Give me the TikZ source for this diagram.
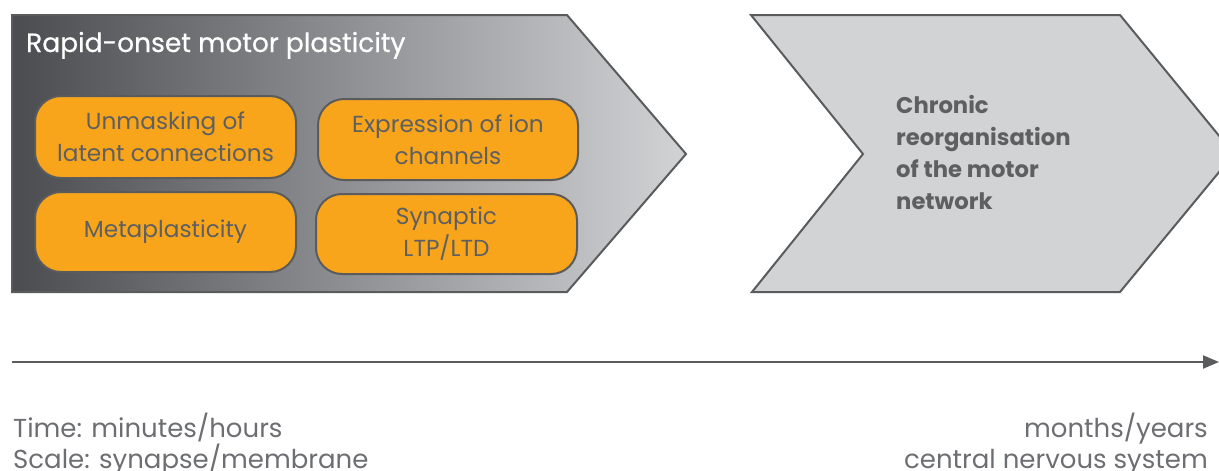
\documentclass[tikz,border=0pt]{standalone}
\usepackage{fontspec}
\setmainfont{Poppins}
\newfontfamily\titlefont[FakeBold=0.6]{Poppins}
\usetikzlibrary{arrows.meta}
\definecolor{edgegray}{HTML}{5A5B5D}
\definecolor{darkfill}{HTML}{4B4C50}
\definecolor{lightfill}{HTML}{D2D3D5}
\definecolor{chevfill}{HTML}{D1D3D4}
\definecolor{boxorange}{HTML}{F8A51B}
\definecolor{txtgray}{HTML}{5E5F61}
\definecolor{axisgray}{HTML}{6D6E71}
\tikzset{
  orangebox/.style={draw=edgegray, line width=2pt, fill=boxorange, rounded corners=26pt,
    align=center, text=txtgray, font=\fontsize{23.2}{32}\selectfont, inner sep=0pt},
  axislabel/.style={text=axisgray, font=\fontsize{26}{31}\selectfont, inner sep=0pt},
}
\begin{document}
\begin{tikzpicture}[x=1pt,y=-1pt]
\useasboundingbox (0,0) rectangle (1219,471);
% left pentagon
\shade[left color=darkfill, right color=lightfill] (12,15) -- (567,15) -- (686,154) -- (567,292) -- (12,292) -- cycle;
\draw[edgegray, line width=2pt, line join=miter] (12,15) -- (567,15) -- (686,154) -- (567,292) -- (12,292) -- cycle;
% right chevron
\begin{scope}
\clip (0,0) rectangle (1219,471);
\draw[edgegray, line width=2pt, fill=chevfill] (751,15) -- (1120,15) -- (1234,154) -- (1120,292) -- (752,292) -- (863,154) -- cycle;
\end{scope}
\node[anchor=base west, text=white, inner sep=0pt, font=\titlefont\fontsize{26.5}{32}\selectfont] (title) at (26,52) {Rapid-onset motor plasticity};
\node[orangebox, minimum width=261pt, minimum height=82pt] (b1) at (165.5,137) {Unmasking of\\latent connections};
\node[orangebox, minimum width=260pt, minimum height=81pt] (b2) at (448,139.5) {Expression of ion\\channels};
\node[orangebox, minimum width=261pt, minimum height=80pt] (b3) at (165.5,232) {Metaplasticity};
\node[orangebox, minimum width=261pt, minimum height=80pt] (b4) at (446.5,234) {Synaptic\\LTP/LTD};
\node[anchor=west, align=left, text=txtgray, inner sep=0pt, font=\fontsize{22.7}{32}\selectfont\bfseries] (chronic) at (896,152) {Chronic\\reorganisation\\of the motor\\network};
% time axis
\coordinate (axstart) at (12,362);
\coordinate (axend) at (1219,362);
\draw[edgegray, line width=2pt, -{Triangle[length=16pt,width=13pt]}] (axstart) -- (axend);
\node[axislabel, anchor=base west] (t1) at (13,437) {Time: minutes/hours};
\node[axislabel, anchor=base west] (t2) at (13,468) {Scale: synapse/membrane};
\node[axislabel, anchor=base east] (t3) at (1208,437) {months/years};
\node[axislabel, anchor=base east] (t4) at (1208,468) {central nervous system};
\end{tikzpicture}
\end{document}
